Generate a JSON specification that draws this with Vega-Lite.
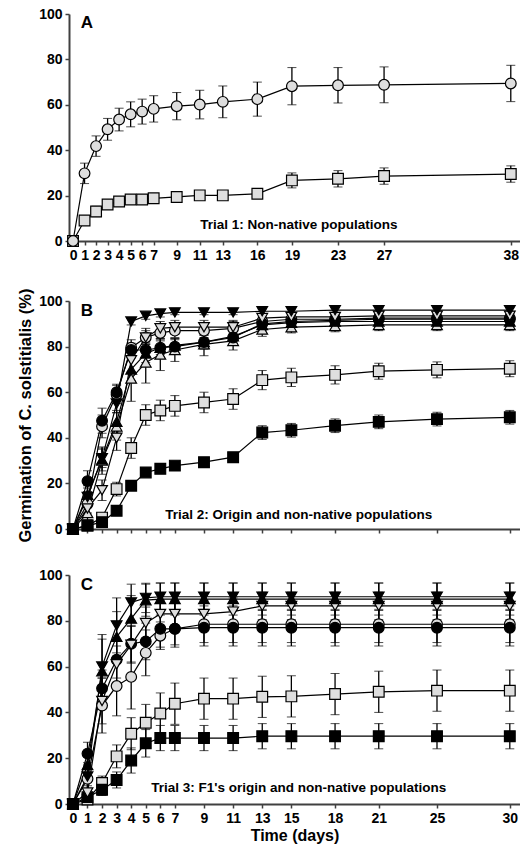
{
"$schema": "https://vega.github.io/schema/vega-lite/v6.json",
"padding": {"left": 17, "top": 7, "right": 0, "bottom": 4},
"spacing": 26,
"datasets": {
"a": [
{"s":"gs","x":0,"y":0,"e":0},{"s":"gs","x":1,"y":9,"e":1.5},{"s":"gs","x":2,"y":13,"e":2.3},{"s":"gs","x":3,"y":16.1,"e":1.5},{"s":"gs","x":4,"y":17.4,"e":1.2},{"s":"gs","x":5,"y":18.3,"e":1},{"s":"gs","x":6,"y":18.3,"e":1},{"s":"gs","x":7,"y":18.8,"e":1},{"s":"gs","x":9,"y":19.4,"e":1},{"s":"gs","x":11,"y":20.1,"e":1},{"s":"gs","x":13,"y":20.1,"e":1},{"s":"gs","x":16,"y":20.8,"e":1},{"s":"gs","x":19,"y":26.7,"e":3.3},{"s":"gs","x":23,"y":27.4,"e":3.6},{"s":"gs","x":27,"y":28.6,"e":3.6},{"s":"gs","x":38,"y":29.5,"e":3.6},
{"s":"gc","x":0,"y":0,"e":0},{"s":"gc","x":1,"y":29.8,"e":4.5},{"s":"gc","x":2,"y":41.8,"e":4.5},{"s":"gc","x":3,"y":49.2,"e":4.8},{"s":"gc","x":4,"y":53.5,"e":5},{"s":"gc","x":5,"y":55.8,"e":5.5},{"s":"gc","x":6,"y":57,"e":5.5},{"s":"gc","x":7,"y":58.2,"e":5.8},{"s":"gc","x":9,"y":59.4,"e":6},{"s":"gc","x":11,"y":60.1,"e":6.3},{"s":"gc","x":13,"y":61.3,"e":7},{"s":"gc","x":16,"y":62.5,"e":7.5},{"s":"gc","x":19,"y":68.2,"e":8.2},{"s":"gc","x":23,"y":68.6,"e":7.8},{"s":"gc","x":27,"y":68.8,"e":7.9},{"s":"gc","x":38,"y":69.4,"e":8}
],
"b": [
{"s":"gs","x":0,"y":0,"e":0},{"s":"gs","x":1,"y":1.5,"e":1},{"s":"gs","x":2,"y":5,"e":1.5},{"s":"gs","x":3,"y":17.5,"e":3},{"s":"gs","x":4,"y":35.5,"e":4.5},{"s":"gs","x":5,"y":50,"e":4.5},{"s":"gs","x":6,"y":52,"e":4.5},{"s":"gs","x":7,"y":54,"e":4.5},{"s":"gs","x":9,"y":55.5,"e":4.5},{"s":"gs","x":11,"y":57,"e":4.5},{"s":"gs","x":13,"y":65.3,"e":4.2},{"s":"gs","x":15,"y":66.5,"e":4},{"s":"gs","x":18,"y":67.6,"e":4},{"s":"gs","x":21,"y":69.2,"e":3.5},{"s":"gs","x":25,"y":69.8,"e":3.5},{"s":"gs","x":30,"y":70.3,"e":3.5},
{"s":"ks","x":0,"y":0,"e":0},{"s":"ks","x":1,"y":1.5,"e":1},{"s":"ks","x":2,"y":3,"e":1},{"s":"ks","x":3,"y":8,"e":1},{"s":"ks","x":4,"y":19,"e":1.5},{"s":"ks","x":5,"y":24.8,"e":1.5},{"s":"ks","x":6,"y":26.4,"e":1.5},{"s":"ks","x":7,"y":27.8,"e":1.5},{"s":"ks","x":9,"y":29.3,"e":1.5},{"s":"ks","x":11,"y":31.5,"e":2},{"s":"ks","x":13,"y":42.3,"e":3},{"s":"ks","x":15,"y":43.3,"e":3},{"s":"ks","x":18,"y":45.3,"e":3},{"s":"ks","x":21,"y":47,"e":3},{"s":"ks","x":25,"y":48.2,"e":3},{"s":"ks","x":30,"y":49,"e":3},
{"s":"gut","x":0,"y":0,"e":0},{"s":"gut","x":1,"y":7,"e":3},{"s":"gut","x":2,"y":30,"e":6},{"s":"gut","x":3,"y":45,"e":6},{"s":"gut","x":4,"y":66,"e":10},{"s":"gut","x":5,"y":73,"e":9},{"s":"gut","x":6,"y":76.5,"e":7},{"s":"gut","x":7,"y":78.5,"e":5},{"s":"gut","x":9,"y":81,"e":5},{"s":"gut","x":11,"y":82.5,"e":4},{"s":"gut","x":13,"y":87.5,"e":3},{"s":"gut","x":15,"y":88.5,"e":2.5},{"s":"gut","x":18,"y":89,"e":2.5},{"s":"gut","x":21,"y":89.5,"e":2.5},{"s":"gut","x":25,"y":89.5,"e":2.5},{"s":"gut","x":30,"y":89.5,"e":2.5},
{"s":"kut","x":0,"y":0,"e":0},{"s":"kut","x":1,"y":15,"e":4},{"s":"kut","x":2,"y":30.5,"e":5},{"s":"kut","x":3,"y":47,"e":5},{"s":"kut","x":4,"y":70,"e":5},{"s":"kut","x":5,"y":77,"e":4},{"s":"kut","x":6,"y":79.5,"e":4},{"s":"kut","x":7,"y":80.5,"e":3},{"s":"kut","x":9,"y":82,"e":3},{"s":"kut","x":11,"y":84.5,"e":3},{"s":"kut","x":13,"y":89.5,"e":2.5},{"s":"kut","x":15,"y":90.5,"e":2},{"s":"kut","x":18,"y":91,"e":2},{"s":"kut","x":21,"y":91,"e":2},{"s":"kut","x":25,"y":91,"e":2},{"s":"kut","x":30,"y":91,"e":2},
{"s":"gc","x":0,"y":0,"e":0},{"s":"gc","x":1,"y":11,"e":4},{"s":"gc","x":2,"y":45,"e":5},{"s":"gc","x":3,"y":59,"e":4},{"s":"gc","x":4,"y":79.5,"e":3.5},{"s":"gc","x":5,"y":84,"e":3},{"s":"gc","x":6,"y":86,"e":3},{"s":"gc","x":7,"y":87,"e":3},{"s":"gc","x":9,"y":87,"e":3},{"s":"gc","x":11,"y":88,"e":3},{"s":"gc","x":13,"y":91,"e":2},{"s":"gc","x":15,"y":92,"e":2},{"s":"gc","x":18,"y":92,"e":2},{"s":"gc","x":21,"y":92.5,"e":2},{"s":"gc","x":25,"y":92.5,"e":2},{"s":"gc","x":30,"y":92.5,"e":2},
{"s":"kc","x":0,"y":0,"e":0},{"s":"kc","x":1,"y":21,"e":4.5},{"s":"kc","x":2,"y":47.5,"e":5.5},{"s":"kc","x":3,"y":60,"e":3.5},{"s":"kc","x":4,"y":78.5,"e":3},{"s":"kc","x":5,"y":78.5,"e":3},{"s":"kc","x":6,"y":79.5,"e":3},{"s":"kc","x":7,"y":80,"e":3},{"s":"kc","x":9,"y":82,"e":3},{"s":"kc","x":11,"y":84,"e":3},{"s":"kc","x":13,"y":90,"e":2},{"s":"kc","x":15,"y":91,"e":2},{"s":"kc","x":18,"y":91.5,"e":2},{"s":"kc","x":21,"y":92,"e":2},{"s":"kc","x":25,"y":92,"e":2},{"s":"kc","x":30,"y":92,"e":2},
{"s":"gdt","x":0,"y":0,"e":0},{"s":"gdt","x":1,"y":9,"e":4},{"s":"gdt","x":2,"y":17,"e":4.5},{"s":"gdt","x":3,"y":40,"e":5.5},{"s":"gdt","x":4,"y":74,"e":5},{"s":"gdt","x":5,"y":84,"e":4},{"s":"gdt","x":6,"y":88,"e":3},{"s":"gdt","x":7,"y":88.5,"e":3},{"s":"gdt","x":9,"y":88.5,"e":3},{"s":"gdt","x":11,"y":88.5,"e":3},{"s":"gdt","x":13,"y":92.5,"e":2},{"s":"gdt","x":15,"y":93,"e":2},{"s":"gdt","x":18,"y":93,"e":2},{"s":"gdt","x":21,"y":93.5,"e":2},{"s":"gdt","x":25,"y":93.5,"e":2},{"s":"gdt","x":30,"y":93.5,"e":2},
{"s":"kdt","x":0,"y":0,"e":0},{"s":"kdt","x":1,"y":14,"e":4},{"s":"kdt","x":2,"y":31,"e":4},{"s":"kdt","x":3,"y":55,"e":4},{"s":"kdt","x":4,"y":91,"e":1.5},{"s":"kdt","x":5,"y":93.5,"e":1.5},{"s":"kdt","x":6,"y":94.5,"e":1.5},{"s":"kdt","x":7,"y":95,"e":1},{"s":"kdt","x":9,"y":95,"e":1},{"s":"kdt","x":11,"y":95,"e":1},{"s":"kdt","x":13,"y":95.5,"e":1},{"s":"kdt","x":15,"y":95.5,"e":1},{"s":"kdt","x":18,"y":96,"e":1},{"s":"kdt","x":21,"y":96,"e":1},{"s":"kdt","x":25,"y":96,"e":1},{"s":"kdt","x":30,"y":96,"e":1}
],
"c": [
{"s":"gs","x":0,"y":0,"e":0},{"s":"gs","x":1,"y":2,"e":1.5},{"s":"gs","x":2,"y":9.2,"e":3},{"s":"gs","x":3,"y":20.8,"e":5},{"s":"gs","x":4,"y":30.7,"e":7},{"s":"gs","x":5,"y":35.5,"e":8},{"s":"gs","x":6,"y":39.5,"e":9},{"s":"gs","x":7,"y":43.8,"e":9},{"s":"gs","x":9,"y":46,"e":9},{"s":"gs","x":11,"y":46,"e":9},{"s":"gs","x":13,"y":46.8,"e":9},{"s":"gs","x":15,"y":47,"e":9},{"s":"gs","x":18,"y":48,"e":9},{"s":"gs","x":21,"y":49,"e":9},{"s":"gs","x":25,"y":49.5,"e":9},{"s":"gs","x":30,"y":49.5,"e":9},
{"s":"ks","x":0,"y":0,"e":0},{"s":"ks","x":1,"y":3,"e":2},{"s":"ks","x":2,"y":6.2,"e":2.5},{"s":"ks","x":3,"y":10.5,"e":3.5},{"s":"ks","x":4,"y":19,"e":5.5},{"s":"ks","x":5,"y":26.5,"e":6},{"s":"ks","x":6,"y":28.8,"e":5.5},{"s":"ks","x":7,"y":28.8,"e":5.5},{"s":"ks","x":9,"y":28.8,"e":5.5},{"s":"ks","x":11,"y":28.8,"e":5.5},{"s":"ks","x":13,"y":29.6,"e":5.5},{"s":"ks","x":15,"y":29.6,"e":5.5},{"s":"ks","x":18,"y":29.6,"e":5.5},{"s":"ks","x":21,"y":29.6,"e":5.5},{"s":"ks","x":25,"y":29.6,"e":5.5},{"s":"ks","x":30,"y":29.6,"e":5.5},
{"s":"gc","x":0,"y":0,"e":0},{"s":"gc","x":1,"y":11,"e":5},{"s":"gc","x":2,"y":43,"e":12},{"s":"gc","x":3,"y":51.5,"e":13},{"s":"gc","x":4,"y":55.5,"e":14},{"s":"gc","x":5,"y":66,"e":10},{"s":"gc","x":6,"y":73.5,"e":6},{"s":"gc","x":7,"y":76.5,"e":7},{"s":"gc","x":9,"y":78.5,"e":8},{"s":"gc","x":11,"y":78.5,"e":8},{"s":"gc","x":13,"y":78.5,"e":8},{"s":"gc","x":15,"y":78.5,"e":8},{"s":"gc","x":18,"y":78.5,"e":8},{"s":"gc","x":21,"y":78.5,"e":8},{"s":"gc","x":25,"y":78.5,"e":8},{"s":"gc","x":30,"y":78.5,"e":8},
{"s":"kc","x":0,"y":0,"e":0},{"s":"kc","x":1,"y":22,"e":5},{"s":"kc","x":2,"y":50.5,"e":8},{"s":"kc","x":3,"y":63,"e":8},{"s":"kc","x":4,"y":70,"e":8},{"s":"kc","x":5,"y":71,"e":8},{"s":"kc","x":6,"y":76.5,"e":8},{"s":"kc","x":7,"y":76.5,"e":8},{"s":"kc","x":9,"y":77,"e":8},{"s":"kc","x":11,"y":77,"e":8},{"s":"kc","x":13,"y":77,"e":8},{"s":"kc","x":15,"y":77,"e":8},{"s":"kc","x":18,"y":77,"e":8},{"s":"kc","x":21,"y":77,"e":8},{"s":"kc","x":25,"y":77,"e":8},{"s":"kc","x":30,"y":77,"e":8},
{"s":"gdt","x":0,"y":0,"e":0},{"s":"gdt","x":1,"y":5,"e":3},{"s":"gdt","x":2,"y":45,"e":10},{"s":"gdt","x":3,"y":61,"e":8},{"s":"gdt","x":4,"y":69.5,"e":8},{"s":"gdt","x":5,"y":79,"e":7},{"s":"gdt","x":6,"y":83,"e":6},{"s":"gdt","x":7,"y":83,"e":6},{"s":"gdt","x":9,"y":83,"e":6},{"s":"gdt","x":11,"y":84,"e":6},{"s":"gdt","x":13,"y":86.5,"e":6},{"s":"gdt","x":15,"y":86.5,"e":6},{"s":"gdt","x":18,"y":86.5,"e":6},{"s":"gdt","x":21,"y":86.5,"e":6},{"s":"gdt","x":25,"y":86.5,"e":6},{"s":"gdt","x":30,"y":86.5,"e":6},
{"s":"kut","x":0,"y":0,"e":0},{"s":"kut","x":1,"y":17,"e":6},{"s":"kut","x":2,"y":58,"e":14},{"s":"kut","x":3,"y":73,"e":11},{"s":"kut","x":4,"y":81,"e":10},{"s":"kut","x":5,"y":89,"e":7},{"s":"kut","x":6,"y":89.5,"e":7},{"s":"kut","x":7,"y":89.5,"e":7},{"s":"kut","x":9,"y":89.5,"e":7},{"s":"kut","x":11,"y":89.5,"e":7},{"s":"kut","x":13,"y":89.5,"e":7},{"s":"kut","x":15,"y":89.5,"e":7},{"s":"kut","x":18,"y":89.5,"e":7},{"s":"kut","x":21,"y":89.5,"e":7},{"s":"kut","x":25,"y":89.5,"e":7},{"s":"kut","x":30,"y":89.5,"e":7},
{"s":"kdt","x":0,"y":0,"e":0},{"s":"kdt","x":1,"y":12,"e":6},{"s":"kdt","x":2,"y":60,"e":14},{"s":"kdt","x":3,"y":78,"e":12},{"s":"kdt","x":4,"y":88,"e":8},{"s":"kdt","x":5,"y":90,"e":6.4},{"s":"kdt","x":6,"y":90.5,"e":6},{"s":"kdt","x":7,"y":90.5,"e":6},{"s":"kdt","x":9,"y":90.5,"e":6},{"s":"kdt","x":11,"y":90.5,"e":6},{"s":"kdt","x":13,"y":90.5,"e":6},{"s":"kdt","x":15,"y":90.5,"e":6},{"s":"kdt","x":18,"y":90.5,"e":6},{"s":"kdt","x":21,"y":90.5,"e":6},{"s":"kdt","x":25,"y":90.5,"e":6},{"s":"kdt","x":30,"y":90.5,"e":6}
]
},
"vconcat": [
{
"width": 451, "height": 227,
"data": {"name": "a"},
"encoding": {
"x": {"field": "x", "type": "quantitative", "scale": {"domain": [-0.35, 38.8], "nice": false, "zero": false}, "axis": {"values": [0,1,2,3,4,5,6,7,9,11,13,16,19,23,27,38], "title": null, "labelFlush": false}},
"y": {"field": "y", "type": "quantitative", "scale": {"domain": [0, 100], "nice": false}, "axis": {"values": [0,20,40,60,80,100], "title": null}}
},
"layer": [
{"mark": {"type": "errorbar", "ticks": {"size": 9, "color": "black", "strokeWidth": 1.3}, "rule": {"color": "black", "strokeWidth": 1.3}}, "encoding": {"yError": {"field": "e"}, "detail": {"field": "s"}}},
{"mark": {"type": "line", "color": "black", "strokeWidth": 1.2}, "encoding": {"detail": {"field": "s"}}},
{"mark": {"type": "point", "filled": true, "stroke": "black", "strokeWidth": 1.2, "size": 115, "opacity": 1},
 "encoding": {
 "shape": {"field": "s", "scale": {"domain": ["gc","gs","ks","kc","kdt","gdt","kut","gut"], "range": ["circle","square","square","circle","triangle-down","triangle-down","triangle-up","triangle-up"]}, "legend": null},
 "fill": {"field": "s", "scale": {"domain": ["gc","gs","ks","kc","kdt","gdt","kut","gut"], "range": ["#dedede","#dedede","black","black","black","#dedede","black","#dedede"]}, "legend": null}}},
{"data": {"values": [{"x": 19.6, "y": 6.9, "label": "Trial 1: Non-native populations"}]}, "mark": {"type": "text", "font": "Liberation Sans", "fontWeight": "bold", "fontSize": 13.5, "color": "black"}, "encoding": {"text": {"field": "label"}}},
{"data": {"values": [{"x": 1.2, "y": 96, "label": "A"}]}, "mark": {"type": "text", "font": "Liberation Sans", "fontWeight": "bold", "fontSize": 17, "color": "black"}, "encoding": {"text": {"field": "label"}}}
]
},
{
"width": 451, "height": 228,
"data": {"name": "b"},
"encoding": {
"x": {"field": "x", "type": "quantitative", "scale": {"domain": [-0.27, 30.7], "nice": false, "zero": false}, "axis": {"values": [0,1,2,3,4,5,6,7,9,11,13,15,18,21,25,30], "title": null, "labels": false}},
"y": {"field": "y", "type": "quantitative", "scale": {"domain": [0, 100], "nice": false}, "axis": {"values": [0,20,40,60,80,100], "title": "Germination of C. solstitialis (%)", "titleFontSize": 16.5, "titlePadding": 5}}
},
"layer": [
{"mark": {"type": "errorbar", "ticks": {"size": 9, "color": "black", "strokeWidth": 1.3}, "rule": {"color": "black", "strokeWidth": 1.3}}, "encoding": {"yError": {"field": "e"}, "detail": {"field": "s"}}},
{"mark": {"type": "line", "color": "black", "strokeWidth": 1.2}, "encoding": {"detail": {"field": "s"}}},
{"mark": {"type": "point", "filled": true, "stroke": "black", "strokeWidth": 1.2, "size": 115, "opacity": 1},
 "encoding": {
 "shape": {"field": "s", "scale": {"domain": ["gc","gs","ks","kc","kdt","gdt","kut","gut"], "range": ["circle","square","square","circle","triangle-down","triangle-down","triangle-up","triangle-up"]}, "legend": null},
 "fill": {"field": "s", "scale": {"domain": ["gc","gs","ks","kc","kdt","gdt","kut","gut"], "range": ["#dedede","#dedede","black","black","black","#dedede","black","#dedede"]}, "legend": null}}},
{"data": {"values": [{"x": 15.5, "y": 6.1, "label": "Trial 2: Origin and non-native populations"}]}, "mark": {"type": "text", "font": "Liberation Sans", "fontWeight": "bold", "fontSize": 13.5, "color": "black"}, "encoding": {"text": {"field": "label"}}},
{"data": {"values": [{"x": 0.96, "y": 95.6, "label": "B"}]}, "mark": {"type": "text", "font": "Liberation Sans", "fontWeight": "bold", "fontSize": 17, "color": "black"}, "encoding": {"text": {"field": "label"}}}
]
},
{
"width": 451, "height": 229,
"data": {"name": "c"},
"encoding": {
"x": {"field": "x", "type": "quantitative", "scale": {"domain": [-0.27, 30.7], "nice": false, "zero": false}, "axis": {"values": [0,1,2,3,4,5,6,7,9,11,13,15,18,21,25,30], "title": "Time (days)", "titleFontSize": 16, "titlePadding": 2, "labelFlush": false}},
"y": {"field": "y", "type": "quantitative", "scale": {"domain": [0, 100], "nice": false}, "axis": {"values": [0,20,40,60,80,100], "title": null}}
},
"layer": [
{"mark": {"type": "errorbar", "ticks": {"size": 9, "color": "black", "strokeWidth": 1.3}, "rule": {"color": "black", "strokeWidth": 1.3}}, "encoding": {"yError": {"field": "e"}, "detail": {"field": "s"}}},
{"mark": {"type": "line", "color": "black", "strokeWidth": 1.2}, "encoding": {"detail": {"field": "s"}}},
{"mark": {"type": "point", "filled": true, "stroke": "black", "strokeWidth": 1.2, "size": 115, "opacity": 1},
 "encoding": {
 "shape": {"field": "s", "scale": {"domain": ["gc","gs","ks","kc","kdt","gdt","kut","gut"], "range": ["circle","square","square","circle","triangle-down","triangle-down","triangle-up","triangle-up"]}, "legend": null},
 "fill": {"field": "s", "scale": {"domain": ["gc","gs","ks","kc","kdt","gdt","kut","gut"], "range": ["#dedede","#dedede","black","black","black","#dedede","black","#dedede"]}, "legend": null}}},
{"data": {"values": [{"x": 15.5, "y": 7, "label": "Trial 3: F1's origin and non-native populations"}]}, "mark": {"type": "text", "font": "Liberation Sans", "fontWeight": "bold", "fontSize": 13.5, "color": "black"}, "encoding": {"text": {"field": "label"}}},
{"data": {"values": [{"x": 0.96, "y": 95.6, "label": "C"}]}, "mark": {"type": "text", "font": "Liberation Sans", "fontWeight": "bold", "fontSize": 17, "color": "black"}, "encoding": {"text": {"field": "label"}}}
]
}
],
"config": {
"view": {"stroke": null},
"font": "Liberation Sans",
"axis": {"labelFont": "Liberation Sans", "labelFontWeight": "bold", "labelFontSize": 14, "labelColor": "black", "titleFont": "Liberation Sans", "titleFontWeight": "bold", "titleFontSize": 14, "titleColor": "black", "domainColor": "#404040", "domainWidth": 2, "tickColor": "#404040", "tickWidth": 1.5, "tickSize": 4, "labelPadding": 3, "grid": false}
}
}
